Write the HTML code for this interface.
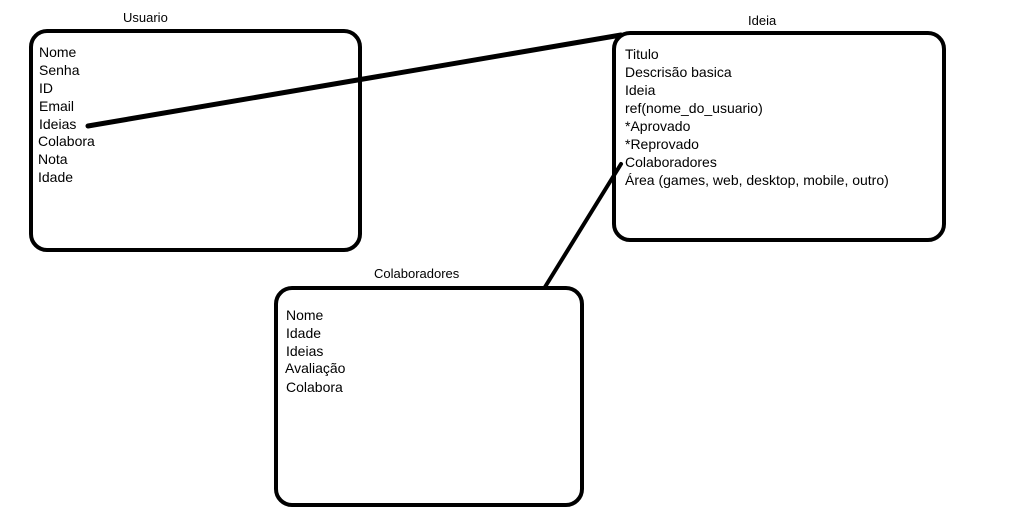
<!DOCTYPE html>
<html><head><meta charset="utf-8"><style>
html,body{margin:0;padding:0;background:#fff;width:1019px;height:515px;overflow:hidden}
svg{display:block}
text{font-family:"Liberation Sans",sans-serif;font-size:14px;fill:#000}
</style></head><body>
<svg width="1019" height="515" viewBox="0 0 1019 515">
<g fill="none" stroke="#000" stroke-width="4" stroke-linecap="round">
<rect x="31" y="31" width="329" height="219" rx="16"/>
<rect x="614" y="33" width="330" height="207" rx="16"/>
<rect x="276" y="288" width="306" height="217" rx="16"/>
<line x1="88" y1="126" x2="621" y2="35" stroke-width="5"/>
<line x1="621" y1="164" x2="545" y2="287"/>
</g>
<text x="123" y="22" style="font-size:13px">Usuario</text>
<text x="748" y="25" style="font-size:13px">Ideia</text>
<text x="374" y="278" style="font-size:13px">Colaboradores</text>
<g>
<text x="39" y="57">Nome</text>
<text x="39" y="75">Senha</text>
<text x="39" y="93">ID</text>
<text x="39" y="111">Email</text>
<text x="39" y="129">Ideias</text>
<text x="38" y="146">Colabora</text>
<text x="38" y="164">Nota</text>
<text x="38" y="182">Idade</text>
</g>
<g>
<text x="625" y="59">Titulo</text>
<text x="625" y="77">Descrisão basica</text>
<text x="625" y="95">Ideia</text>
<text x="625" y="113">ref(nome_do_usuario)</text>
<text x="625" y="131">*Aprovado</text>
<text x="625" y="149">*Reprovado</text>
<text x="625" y="167">Colaboradores</text>
<text x="625" y="185">Área (games, web, desktop, mobile, outro)</text>
</g>
<g>
<text x="286" y="320">Nome</text>
<text x="286" y="338">Idade</text>
<text x="286" y="356">Ideias</text>
<text x="285" y="373">Avaliação</text>
<text x="286" y="392">Colabora</text>
</g>
</svg>
</body></html>
